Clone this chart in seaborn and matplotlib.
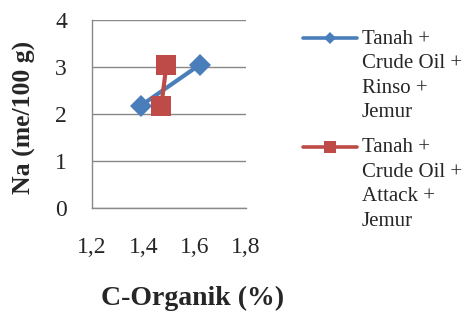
import pandas as pd
import matplotlib.pyplot as plt
import seaborn as sns
from matplotlib.lines import Line2D
from matplotlib.legend_handler import HandlerLine2D

# Datos
serie_rinso = 'Tanah +\nCrude Oil +\nRinso +\nJemur'
serie_attack = 'Tanah +\nCrude Oil +\nAttack +\nJemur'
c_org_rinso = [1.39, 1.62]
na_rinso = [2.18, 3.05]
c_org_attack = [1.47, 1.49]
na_attack = [2.18, 3.05]
x_ticks = [1.2, 1.4, 1.6, 1.8]
x_tick_labels = ['1,2', '1,4', '1,6', '1,8']
y_ticks = [0, 1, 2, 3, 4]

data = pd.DataFrame({
    'C': c_org_rinso + c_org_attack,
    'Na': na_rinso + na_attack,
    'serie': [serie_rinso] * len(c_org_rinso) + [serie_attack] * len(c_org_attack),
})

sns.set_style('white')
plt.rcParams['font.family'] = ['Liberation Serif', 'DejaVu Serif']

fig = plt.figure(figsize=(4.65, 3.13), dpi=100)
ax = fig.add_axes([0.198, 0.335, 0.331, 0.601])

colores = {serie_rinso: '#4A7EBB', serie_attack: '#BE4B48'}
sns.lineplot(data=data, x='C', y='Na', hue='serie', style='serie',
             palette=colores, markers={serie_rinso: 'D', serie_attack: 's'},
             dashes=False, sort=False, linewidth=3, markersize=11,
             markeredgewidth=0, ax=ax, legend=False)
# el cuadrado un poco mas grande
ax.lines[1].set_markersize(14)

ax.set_xlim(1.2, 1.8)
ax.set_ylim(0, 4)
ax.set_xticks(x_ticks)
ax.set_xticklabels(x_tick_labels)
ax.set_yticks(y_ticks)
ax.yaxis.grid(True, color='#888888', linewidth=1)
ax.set_axisbelow(True)
for s in ['top', 'right']:
    ax.spines[s].set_visible(False)
for s in ['left', 'bottom']:
    ax.spines[s].set_color('#888888')
    ax.spines[s].set_linewidth(1)
ax.tick_params(axis='both', direction='out', length=6, width=1, color='#888888',
               labelsize=17)
ax.tick_params(axis='x', pad=15)
ax.tick_params(axis='y', pad=12)
ax.set_xlabel('C-Organik (%)', fontsize=20, fontweight='bold')
ax.set_ylabel('Na (me/100 g)', fontsize=18.5, fontweight='bold')
ax.xaxis.set_label_coords(0.65, -0.415)
ax.yaxis.set_label_coords(-0.363, 0.484)


# handle alineado con la primera linea del texto
class PrimeraLinea(HandlerLine2D):
    def create_artists(self, legend, orig_handle, xdescent, ydescent, width, height, fontsize, trans):
        arts = super().create_artists(legend, orig_handle, xdescent, ydescent, width, height, fontsize, trans)
        for a in arts:
            a.set_ydata([y + 1.8 * fontsize for y in a.get_ydata()])
        return arts


handles = [Line2D([], [], color=colores[serie_rinso], marker='D', markersize=6, linewidth=2.6, markeredgewidth=0),
           Line2D([], [], color=colores[serie_attack], marker='s', markersize=8, linewidth=2.6, markeredgewidth=0)]
leg = fig.legend(handles, [serie_rinso, serie_attack], loc='upper left', bbox_to_anchor=(0.633, 0.932),
                 frameon=False, fontsize=15, handlelength=2.6, handletextpad=0.25, labelspacing=0.75,
                 borderaxespad=0, handler_map={Line2D: PrimeraLinea()})
for t in leg.get_texts():
    t.set_linespacing(1.4)

fig.savefig('out.png', dpi=100)
